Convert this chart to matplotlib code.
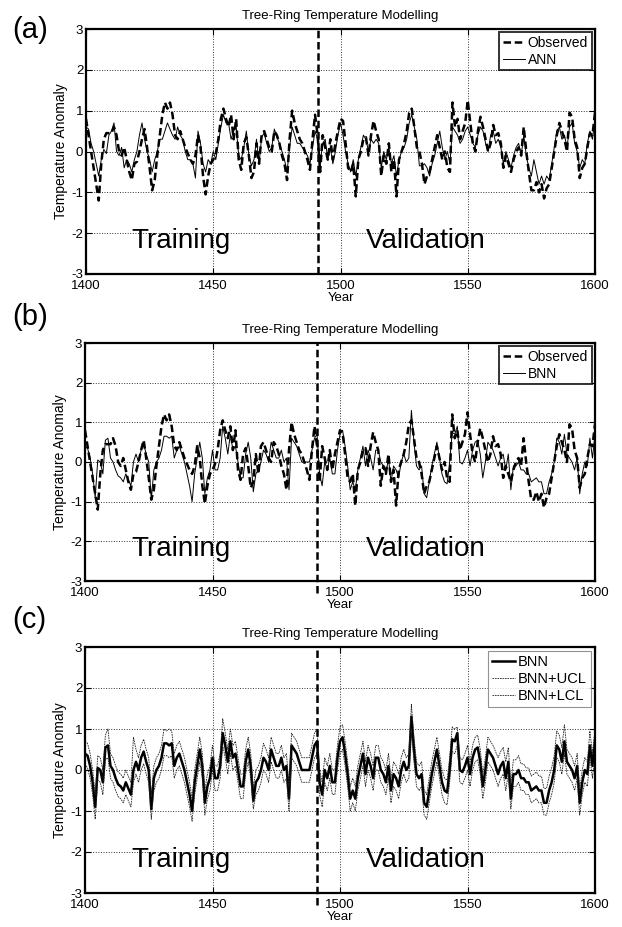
import numpy as np
import matplotlib
matplotlib.use("Agg")
import matplotlib.pyplot as plt

plt.rcParams['font.family'] = ['Liberation Sans', 'DejaVu Sans']
plt.rcParams['axes.unicode_minus'] = False

years = np.arange(1400, 1601)
split_year = 1491

observed = [
    0.8, 0.4, 0.0, -0.4, -0.8, -1.2, -0.3, 0.3, 0.45, 0.45,
    0.45, 0.6, 0.4, 0.0, -0.1, 0.1, -0.2, -0.5, -0.7, -0.3,
    -0.25, 0.0, 0.3, 0.55, 0.1, -0.4, -0.95, -0.7, -0.1, 0.4,
    0.9, 1.2, 1.05, 1.2, 0.9, 0.4, 0.3, 0.5, 0.3, 0.1,
    -0.05, -0.2, -0.3, -0.1, 0.4, 0.1, -0.6, -1.05, -0.6, -0.3,
    -0.2, -0.05, 0.3, 0.8, 1.05, 0.8, 0.6, 0.9, 0.3, 0.8,
    -0.2, -0.45, 0.2, 0.35, -0.1, -0.65, -0.5, 0.2, -0.3, 0.4,
    0.5, 0.3, 0.1, 0.0, 0.5, 0.4, 0.2, -0.1, -0.3, -0.7,
    0.3, 1.0, 0.7, 0.5, 0.3, 0.2, 0.0, -0.2, -0.45, 0.3,
    0.9, 0.4, -0.5, 0.4, 0.1, -0.2, 0.3, -0.2, 0.2, 0.5,
    0.8, 0.75, 0.2, -0.4, -0.5, -0.3, -1.1, -0.2, 0.0, 0.3,
    0.35, -0.1, 0.4, 0.75, 0.5, 0.3, -0.6, -0.1, -0.3, 0.2,
    -0.5, -0.2, -1.1, -0.2, 0.0, 0.2, 0.5, 0.95, 1.05, 0.6,
    0.1, 0.0, -0.3, -0.8, -0.6, -0.5, -0.2, 0.1, 0.4, 0.1,
    -0.2, 0.0, -0.4, -0.5, 1.2, 0.6, 0.8, 0.3, 0.5, 0.7,
    1.25, 0.7, 0.2, 0.0, 0.5, 0.85, 0.6, 0.3, 0.0, 0.2,
    0.65, 0.4, 0.45, 0.2, -0.4, -0.1, -0.3, -0.5, -0.2, 0.0,
    0.1, -0.1, 0.6, 0.0, -0.5, -0.95, -0.95, -0.75, -1.0, -0.8,
    -1.15, -0.9, -0.8, -0.4, 0.0, 0.4, 0.7, 0.5, 0.3, 0.0,
    0.95, 0.85, 0.3, 0.1, -0.65, -0.4, -0.3, 0.1, 0.45, 0.4, 0.95,
]

ann = [
    0.6, 0.55, 0.2, 0.0, -0.3, -0.6, -0.2, 0.05, -0.05, 0.4,
    0.5, 0.7, 0.0, -0.1, 0.1, -0.4, -0.2, -0.3, -0.5, -0.2,
    0.0, 0.4, 0.7, 0.3, 0.0, -0.2, -0.5, -0.2, 0.0, 0.3,
    0.3, 0.5, 0.7, 0.55, 0.4, 0.3, 0.6, 0.4, 0.3, 0.0,
    -0.2, -0.2, -0.3, -0.65, 0.5, 0.2, -0.3, -0.5, -0.2, -0.3,
    0.0, -0.2, 0.2, 0.6, 0.9, 0.7, 0.7, 0.3, 0.5, 0.6,
    -0.1, -0.2, 0.1, 0.5, -0.1, -0.35, -0.2, 0.3, -0.3, 0.35,
    0.45, 0.2, 0.0, 0.1, 0.55, 0.35, 0.2, 0.0, -0.2, -0.5,
    0.1, 0.6, 0.4, 0.2, 0.2, 0.1, 0.0, -0.1, -0.3, 0.1,
    0.5, 0.3, -0.3, 0.2, 0.3, -0.2, 0.1, -0.3, 0.0, 0.4,
    0.7, 0.4, 0.0, -0.3, -0.5, -0.2, -0.6, -0.2, 0.1, 0.4,
    0.3, 0.0, 0.3, 0.2, 0.3, 0.2, -0.4, 0.0, -0.2, 0.1,
    -0.3, -0.1, -0.6, -0.2, 0.0, 0.1, 0.3, 0.7, 0.9, 0.6,
    0.3, -0.35, -0.35, -0.3, -0.4, -0.6, -0.3, -0.1, 0.2, 0.5,
    0.1, -0.2, 0.0, -0.3, 0.6, 0.5, 0.4, 0.2, 0.3, 0.5,
    0.6, 0.4, 0.2, 0.1, 0.4, 0.6, 0.5, 0.2, 0.0, 0.4,
    0.5, 0.2, 0.3, 0.1, -0.3, 0.0, -0.2, -0.4, -0.1, 0.1,
    0.2, -0.1, 0.4, -0.1, -0.4, -0.6, -0.2, -0.5, -0.8, -0.6,
    -0.8, -0.6, -0.7, -0.3, 0.1, 0.5, 0.6, 0.3, 0.4, 0.1,
    0.6, 0.7, 0.2, 0.0, -0.4, -0.2, -0.3, 0.2, 0.5, 0.3, 0.8,
]

bnn = [
    0.4, 0.35, 0.1, -0.3, -0.9, 0.05, 0.0, -0.3, 0.55, 0.6,
    0.1, 0.0, -0.2, -0.35, -0.4, -0.5, -0.3, -0.45, -0.6, 0.0,
    0.2, 0.0, 0.3, 0.45, 0.2, 0.0, -0.95, -0.2, 0.0, 0.1,
    0.3, 0.65, 0.65, 0.6, 0.65, 0.1, 0.3, 0.4, 0.2, 0.0,
    -0.3, -0.6, -1.0, -0.3, 0.1, 0.5, 0.1, -0.8, -0.4, -0.2,
    0.3, -0.2, -0.2, 0.1, 0.9, 0.6, 0.2, 0.7, 0.3, 0.4,
    0.0, -0.4, -0.4, 0.2, 0.5, 0.1, -0.75, -0.3, -0.2, 0.0,
    0.3, 0.2, 0.0, 0.5, 0.3, 0.1, 0.1, 0.3, 0.0, 0.1,
    -0.7, 0.6, 0.5, 0.4, 0.2, 0.0, 0.0, 0.0, 0.0, 0.3,
    0.6, 0.7, -0.3, -0.6, 0.0, -0.2, 0.1, -0.3, -0.3, 0.3,
    0.7, 0.8, 0.4, -0.1, -0.7, -0.5, -0.7, -0.2, 0.1, 0.4,
    -0.1, 0.3, 0.1, -0.2, 0.3, 0.3, 0.0, -0.1, -0.3, 0.1,
    -0.5, -0.1, -0.2, -0.4, 0.0, 0.2, 0.0, 0.1, 1.3, 0.5,
    -0.1, -0.2, -0.1, -0.8, -0.9, -0.5, -0.1, 0.2, 0.5, 0.1,
    -0.3, -0.5, -0.55, 0.0, 0.75, 0.7, 0.9, 0.0, -0.05, 0.1,
    0.3, -0.1, 0.3, 0.5, 0.55, 0.2, -0.4, 0.0, 0.5, 0.4,
    0.3, 0.1, -0.1, 0.1, 0.2, -0.2, 0.2, -0.7, -0.1, -0.1,
    0.0, -0.2, -0.2, -0.3, -0.3, -0.5, -0.45, -0.4, -0.5, -0.5,
    -0.8, -0.8, -0.5, -0.3, 0.0, 0.6, 0.5, 0.2, 0.7, 0.2,
    0.1, 0.0, -0.2, 0.1, -0.8, -0.3, 0.0, -0.1, 0.6, 0.1, 0.7,
]

bnn_ucl = [
    0.7, 0.65, 0.4, 0.0, -0.6, 0.35, 0.3, 0.0, 0.85, 1.0,
    0.4, 0.3, 0.1, -0.05, -0.1, -0.2, 0.0, -0.15, -0.3, 0.8,
    0.5, 0.3, 0.6, 0.75, 0.5, 0.3, -0.65, 0.1, 0.3, 0.4,
    0.6, 1.0, 0.95, 1.0, 0.95, 0.4, 0.6, 0.7, 0.5, 0.3,
    0.0, -0.3, -0.7, 0.0, 0.4, 0.8, 0.4, -0.5, -0.1, 0.1,
    0.6, 0.1, 0.1, 0.4, 1.25, 0.9, 0.5, 1.0, 0.6, 0.7,
    0.3, -0.1, -0.1, 0.5, 0.8, 0.4, -0.45, 0.0, 0.1, 0.3,
    0.65, 0.5, 0.3, 0.8, 0.6, 0.4, 0.4, 0.6, 0.3, 0.4,
    -0.4, 0.9, 0.8, 0.7, 0.5, 0.3, 0.3, 0.3, 0.3, 0.6,
    0.9, 1.0, 0.0, -0.3, 0.3, 0.1, 0.4, 0.0, 0.0, 0.6,
    1.05, 1.1, 0.7, 0.2, -0.4, -0.2, -0.4, 0.1, 0.4, 0.7,
    0.2, 0.6, 0.4, 0.1, 0.6, 0.6, 0.3, 0.2, 0.0, 0.4,
    -0.2, 0.2, 0.1, -0.1, 0.3, 0.5, 0.3, 0.4, 1.6, 0.8,
    0.2, 0.1, 0.2, -0.5, -0.6, -0.2, 0.2, 0.5, 0.8, 0.4,
    0.0, -0.2, -0.25, 0.3, 1.05, 1.0, 1.05, 0.3, 0.25, 0.4,
    0.6, 0.2, 0.6, 0.8, 0.85, 0.5, -0.1, 0.3, 0.8, 0.7,
    0.6, 0.45, 0.3, 0.45, 0.55, 0.2, 0.55, -0.35, 0.25, 0.25,
    0.35, 0.15, 0.15, 0.05, 0.05, -0.15, -0.1, -0.05, -0.15, -0.15,
    -0.45, -0.45, -0.15, 0.05, 0.35, 0.95, 0.85, 0.55, 1.1, 0.5,
    0.4, 0.3, 0.1, 0.4, -0.5, 0.0, 0.3, 0.2, 0.95, 0.4, 1.0,
]

bnn_lcl = [
    0.15, 0.05, -0.2, -0.6, -1.2, -0.25, -0.3, -0.6, 0.25, 0.3,
    -0.2, -0.3, -0.5, -0.65, -0.7, -0.8, -0.6, -0.75, -0.9, -0.3,
    -0.1, -0.3, 0.0, 0.15, -0.1, -0.3, -1.2, -0.5, -0.3, -0.2,
    0.0, 0.35, 0.35, 0.3, 0.35, -0.2, 0.0, 0.1, -0.1, -0.3,
    -0.6, -0.9, -1.25, -0.6, -0.2, 0.2, -0.2, -1.1, -0.7, -0.5,
    0.0, -0.5, -0.5, -0.2, 0.6, 0.3, -0.1, 0.4, 0.0, 0.1,
    -0.3, -0.7, -0.7, -0.1, 0.2, -0.2, -0.95, -0.6, -0.5, -0.3,
    0.0, -0.1, -0.3, 0.2, 0.0, -0.2, -0.2, 0.0, -0.3, -0.2,
    -1.0, 0.3, 0.2, 0.1, -0.1, -0.3, -0.3, -0.3, -0.3, 0.0,
    0.3, 0.4, -0.6, -0.9, -0.3, -0.5, -0.2, -0.6, -0.6, 0.0,
    0.4, 0.5, 0.1, -0.4, -1.0, -0.8, -1.0, -0.5, -0.2, 0.1,
    -0.4, 0.0, -0.2, -0.5, 0.0, 0.0, -0.3, -0.4, -0.6, -0.2,
    -0.8, -0.4, -0.5, -0.7, -0.3, -0.1, -0.3, -0.2, 1.0, 0.2,
    -0.4, -0.5, -0.4, -1.1, -1.2, -0.8, -0.4, -0.1, 0.2, -0.2,
    -0.6, -0.8, -0.85, -0.3, 0.45, 0.4, 0.6, -0.3, -0.35, -0.2,
    0.0, -0.4, 0.0, 0.2, 0.25, -0.1, -0.7, -0.3, 0.2, 0.1,
    0.0, -0.2, -0.4, -0.2, -0.1, -0.5, -0.1, -0.95, -0.4, -0.4,
    -0.3, -0.5, -0.5, -0.6, -0.6, -0.8, -0.75, -0.7, -0.8, -0.8,
    -1.1, -1.1, -0.8, -0.6, -0.3, 0.3, 0.2, -0.1, 0.4, -0.1,
    -0.2, -0.3, -0.5, -0.2, -1.1, -0.6, -0.3, -0.4, 0.3, -0.2, 0.4,
]

panel_labels = ['(a)', '(b)', '(c)']
xticks = [1400, 1450, 1500, 1550, 1600]
yticks = [-3, -2, -1, 0, 1, 2, 3]

fig = plt.figure(figsize=(6.22, 9.27), dpi=100)
# axes boxes in pixels: left, top, right, bottom
boxes = [(86, 29, 595, 274), (85, 343, 595, 581), (85, 647, 595, 893)]
W, H = 622.0, 927.0


def style_axes(ax):
    ax.set_xlim(1400, 1600)
    ax.set_ylim(-3, 3)
    ax.set_xticks(xticks)
    ax.set_yticks(yticks)
    ax.tick_params(direction='in', length=4, width=0.8, labelsize=9.5,
                   top=True, right=True)
    ax.tick_params(axis='x', pad=4)
    ax.tick_params(axis='y', pad=2)
    ax.grid(True, linestyle=':', color='#333333', linewidth=0.7)
    for sp in ax.spines.values():
        sp.set_linewidth(1.6)
    ax.set_xlabel('Year', fontsize=9.5, labelpad=0)
    ax.set_ylabel('Temperature Anomaly', fontsize=10, labelpad=2)
    ax.set_title('Tree-Ring Temperature Modelling', fontsize=9.5, pad=7)
    ax.text(1418, -2.36, 'Training', fontsize=20)
    ax.text(1510, -2.36, 'Validation', fontsize=20)


def style_legend(leg, edge, lw):
    leg.get_frame().set_edgecolor(edge)
    leg.get_frame().set_linewidth(lw)


axes = []
for l, t, r, b in boxes:
    axes.append(fig.add_axes([l / W, 1 - b / H, (r - l) / W, (b - t) / H]))

# (a) observed vs ANN
ax = axes[0]
ax.plot(years, observed, 'k--', lw=1.8, dashes=(3, 1.5), label='Observed')
ax.plot(years, ann, 'k-', lw=0.7, label='ANN')
ax.axvline(split_year, color='k', ls='--', lw=1.8, dashes=(3, 1.5))
style_axes(ax)
leg = ax.legend(loc='upper right', fontsize=10, handlelength=1.6, handletextpad=0.2,
                borderpad=0.25, labelspacing=0.2, borderaxespad=0.25, fancybox=False)
style_legend(leg, 'k', 1.4)

# (b) observed vs BNN
ax = axes[1]
ax.plot(years, observed, 'k--', lw=1.8, dashes=(3, 1.5), label='Observed')
ax.plot(years, bnn, 'k-', lw=0.7, label='BNN')
ax.plot([split_year, split_year], [-3.3, 3], color='k', ls='--', lw=1.8,
        dashes=(3, 1.5), clip_on=False)
style_axes(ax)
leg = ax.legend(loc='upper right', fontsize=10, handlelength=1.6, handletextpad=0.2,
                borderpad=0.25, labelspacing=0.2, borderaxespad=0.25, fancybox=False)
style_legend(leg, 'k', 1.4)

# (c) BNN with confidence limits
ax = axes[2]
ax.plot(years, bnn, 'k-', lw=1.8, label='BNN')
ax.plot(years, bnn_ucl, color='#222222', ls='--', lw=0.6, dashes=(2, 1), label='BNN+UCL')
ax.plot(years, bnn_lcl, color='#222222', ls='--', lw=0.6, dashes=(2, 1), label='BNN+LCL')
ax.plot([split_year, split_year], [-3.3, 3], color='k', ls='--', lw=1.8,
        dashes=(3, 1.5), clip_on=False)
style_axes(ax)
leg = ax.legend(loc='upper right', fontsize=10.5, handlelength=1.6, handletextpad=0.2,
                borderpad=0.25, labelspacing=0.2, borderaxespad=0.3, fancybox=False)
style_legend(leg, '#777777', 0.8)

# panel letters
for lab, ypx in zip(panel_labels, [30, 317, 620]):
    fig.text(12 / W, 1 - ypx / H, lab, fontsize=21, va='center', ha='left')

fig.savefig('out.png', dpi=100, facecolor='white')
